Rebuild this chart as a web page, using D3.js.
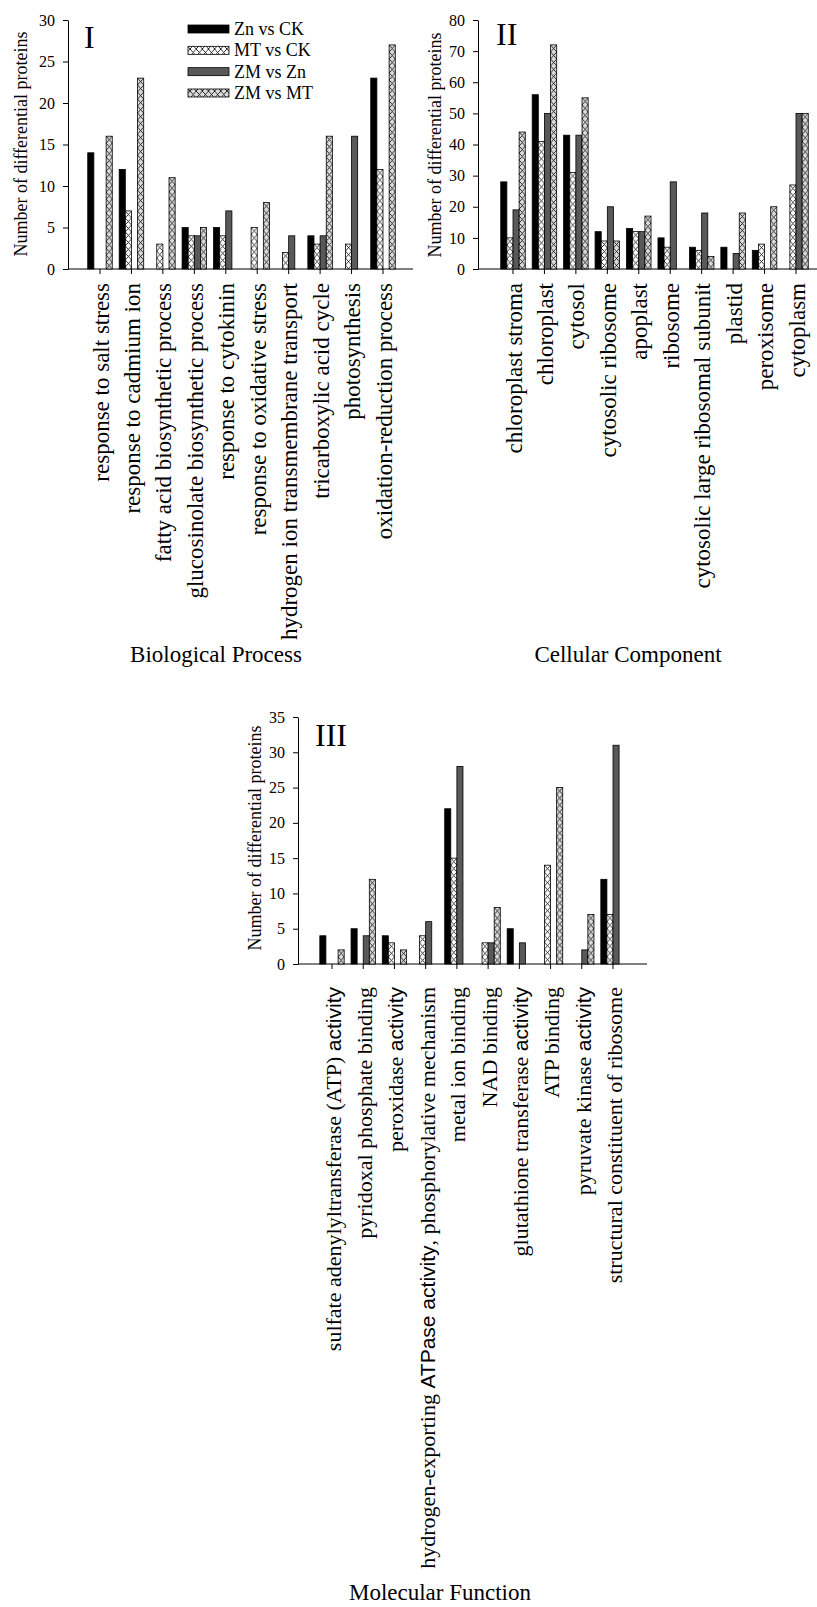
<!DOCTYPE html>
<html>
<head>
<meta charset="utf-8">
<script src="https://cdn.jsdelivr.net/npm/d3@7"></script>
<style>
  body { margin: 0; background: #fff; }
  text { font-family: "Liberation Serif", "Times New Roman", serif; fill: #000; }
</style>
</head>
<body>
<svg id="fig" width="817" height="1607"></svg>
<script>
// series
var seriesNames = ["Zn vs CK", "MT vs CK", "ZM vs Zn", "ZM vs MT"];

// I. Biological Process
var bpCats = ["response to salt stress", "response to cadmium ion", "fatty acid biosynthetic process",
  "glucosinolate biosynthetic process", "response to cytokinin", "response to oxidative stress",
  "hydrogen ion transmembrane transport", "tricarboxylic acid cycle", "photosynthesis", "oxidation-reduction process"];
var bpZnCK = [14, 12, 0, 5, 5, 0, 0, 4, 0, 23];
var bpMTCK = [0, 7, 3, 4, 4, 5, 2, 3, 3, 12];
var bpZMZn = [0, 0, 0, 4, 7, 0, 4, 4, 16, 0];
var bpZMMT = [16, 23, 11, 5, 0, 8, 0, 16, 0, 27];
var bpTicks = [0, 5, 10, 15, 20, 25, 30];

// II. Cellular Component
var ccCats = ["chloroplast stroma", "chloroplast", "cytosol", "cytosolic ribosome", "apoplast", "ribosome",
  "cytosolic large ribosomal subunit", "plastid", "peroxisome", "cytoplasm"];
var ccZnCK = [28, 56, 43, 12, 13, 10, 7, 7, 6, 0];
var ccMTCK = [10, 41, 31, 9, 12, 7, 6, 0, 8, 27];
var ccZMZn = [19, 50, 43, 20, 12, 28, 18, 5, 0, 50];
var ccZMMT = [44, 72, 55, 9, 17, 0, 4, 18, 20, 50];
var ccTicks = [0, 10, 20, 30, 40, 50, 60, 70, 80];

// III. Molecular Function
var mfCats = ["sulfate adenylyltransferase (ATP) activity", "pyridoxal phosphate binding", "peroxidase activity",
  "hydrogen-exporting ATPase activity, phosphorylative mechanism", "metal ion binding", "NAD binding",
  "glutathione transferase activity", "ATP binding", "pyruvate kinase activity", "structural constituent of ribosome"];
var mfZnCK = [4, 5, 4, 0, 22, 0, 5, 0, 0, 12];
var mfMTCK = [0, 0, 3, 4, 15, 3, 0, 14, 0, 7];
var mfZMZn = [0, 4, 0, 6, 28, 3, 3, 0, 2, 31];
var mfZMMT = [2, 12, 2, 0, 0, 8, 0, 25, 7, 0];
var mfTicks = [0, 5, 10, 15, 20, 25, 30, 35];
// bits of the labels set in a sans face in the original figure
var sansBits = ["activity", "ATPase activity"];

var svg = d3.select("#fig");
var defs = svg.append("defs");

function hatch(id, bw, bg) {
  var p = defs.append("pattern").attr("id", id)
    .attr("patternUnits", "userSpaceOnUse").attr("width", bw).attr("height", 7);
  p.append("rect").attr("width", bw).attr("height", 7).attr("fill", bg);
  p.append("path").attr("d", "M0,0L" + bw + ",7M" + bw + ",0L0,7")
    .attr("stroke", "#000").attr("stroke-width", 0.8).attr("fill", "none");
}

function panel(c) {
  var g = svg.append("g");
  var step = (c.lastC - c.firstC) / (c.cats.length - 1);
  var x0 = d3.scaleBand().domain(c.cats)
    .range([c.firstC - step / 2, c.lastC + step / 2])
    .paddingInner(0.22).paddingOuter(0.11);
  var x1 = d3.scaleBand().domain(seriesNames).range([0, x0.bandwidth()]);
  var y = d3.scaleLinear().domain([0, d3.max(c.ticks)]).range([c.bottom, c.top]);
  var bw = x1.bandwidth();

  hatch(c.id + "W", bw, "#fff");
  hatch(c.id + "G", bw, "#d9d9d9");
  var fills = ["#000", "url(#" + c.id + "W)", "#595959", "url(#" + c.id + "G)"];

  // y axis
  var ya = g.append("g").attr("transform", "translate(" + c.axisX + ",0)")
    .call(d3.axisLeft(y).tickValues(c.ticks).tickSize(5).tickSizeOuter(0).tickPadding(8));
  ya.selectAll("text").style("font-family", "'Liberation Serif', serif").style("font-size", "16px");
  ya.selectAll("line, path").attr("stroke", "#000");

  // x axis
  var xa = g.append("g").attr("transform", "translate(0," + c.bottom + ")")
    .call(d3.axisBottom(x0).tickSize(5).tickFormat(""));
  xa.select(".domain").remove();
  xa.selectAll("line").attr("stroke", "#000").attr("transform", null)
    .attr("x1", function(d) { return x0(d) + x0.bandwidth() / 2; })
    .attr("x2", function(d) { return x0(d) + x0.bandwidth() / 2; });
  xa.selectAll(".tick").attr("transform", null);
  g.append("line").attr("x1", c.axisX).attr("x2", c.axisEnd)
    .attr("y1", c.bottom).attr("y2", c.bottom).attr("stroke", "#000");

  // bars
  var vals = c.values;
  c.cats.forEach(function(cat, i) {
    seriesNames.forEach(function(s, k) {
      var v = vals[k][i];
      if (!v) return;
      g.append("g").attr("transform", "translate(" + (x0(cat) + x1(s)) + "," + y(v) + ")")
        .append("rect").attr("width", bw).attr("height", c.bottom - y(v))
        .attr("fill", fills[k]).attr("stroke", "#000").attr("stroke-width", 0.8);
    });
  });

  // category labels
  c.cats.forEach(function(cat) {
    var cx = x0(cat) + x0.bandwidth() / 2;
    var t = g.append("text")
      .attr("transform", "translate(" + (cx + 1) + "," + c.labelTop + ") rotate(-90)")
      .attr("text-anchor", "end").attr("dominant-baseline", "central")
      .style("font-size", c.labelSize + "px");
    var bit = null;
    sansBits.forEach(function(b) { if (c.sans && cat.indexOf(b) >= 0 && (!bit || b.length > bit.length)) bit = b; });
    if (bit) {
      var at = cat.indexOf(bit);
      t.append("tspan").text(cat.slice(0, at));
      t.append("tspan").style("font-family", "'Liberation Sans', Arial, sans-serif")
        .style("font-size", (c.labelSize - 1) + "px").text(bit);
      t.append("tspan").text(cat.slice(at + bit.length));
    } else {
      t.text(cat);
    }
  });

  // y title
  g.append("text")
    .attr("transform", "translate(" + c.titleX + "," + c.titleY + ") rotate(-90)")
    .attr("text-anchor", "middle").attr("dominant-baseline", "central")
    .style("font-size", "18px").text("Number of differential proteins");

  // numeral
  g.append("text").attr("x", c.numX).attr("y", c.numY).style("font-size", "32px").text(c.numeral);

  // panel name
  g.append("text").attr("x", c.nameX).attr("y", c.nameY).attr("text-anchor", "middle")
    .style("font-size", "23px").text(c.name);
  return g;
}

var gI = panel({ id: "bp", cats: bpCats, values: [bpZnCK, bpMTCK, bpZMZn, bpZMMT], ticks: bpTicks,
  axisX: 68, axisEnd: 413, top: 20, bottom: 269, firstC: 100, lastC: 383, labelSize: 23,
  labelTop: 283, titleX: 21, titleY: 144, numeral: "I", numX: 84, numY: 48,
  name: "Biological Process", nameX: 216, nameY: 662 });

panel({ id: "cc", cats: ccCats, values: [ccZnCK, ccMTCK, ccZMZn, ccZMMT], ticks: ccTicks,
  axisX: 478, axisEnd: 817, top: 20, bottom: 269, firstC: 513, lastC: 796, labelSize: 23,
  labelTop: 283, titleX: 435, titleY: 145, numeral: "II", numX: 496, numY: 45,
  name: "Cellular Component", nameX: 628, nameY: 662 });

panel({ id: "mf", cats: mfCats, values: [mfZnCK, mfMTCK, mfZMZn, mfZMMT], ticks: mfTicks, sans: true,
  axisX: 298, axisEnd: 647, top: 717, bottom: 964, firstC: 332, lastC: 613, labelSize: 22,
  labelTop: 987, titleX: 255, titleY: 838, numeral: "III", numX: 315, numY: 746,
  name: "Molecular Function", nameX: 440, nameY: 1600 });

// legend (panel I)
var legFills = ["#000", "url(#bpW)", "#595959", "url(#bpG)"];
var legY = d3.scalePoint().domain(seriesNames).range([29, 93]);
var leg = gI.append("g");
seriesNames.forEach(function(s, k) {
  leg.append("rect").attr("x", 188).attr("y", legY(s) - 4).attr("width", 41).attr("height", 8)
    .attr("fill", legFills[k]).attr("stroke", "#000").attr("stroke-width", 0.8);
  leg.append("text").attr("x", 234).attr("y", legY(s)).attr("dominant-baseline", "central")
    .style("font-size", "18px").text(s);
});
</script>
</body>
</html>
